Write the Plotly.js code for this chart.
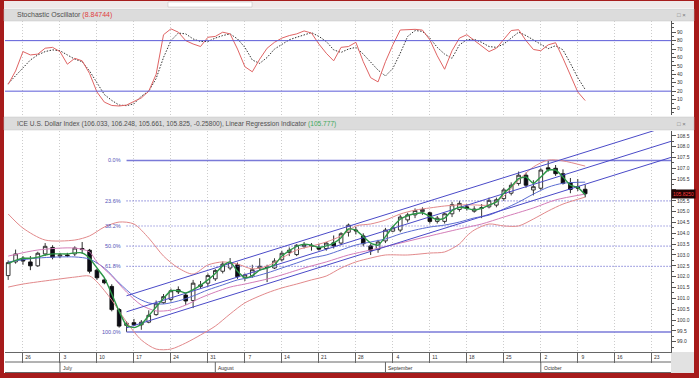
<!DOCTYPE html>
<html><head><meta charset="utf-8">
<script src="https://cdn.plot.ly/plotly-3.0.1.min.js"></script>
<style>html,body{margin:0;padding:0;background:#a61b1b;overflow:hidden}#chart{width:699px;height:378px}</style>
</head><body><div id="chart"></div>
<script>
// ---------- DATA ----------
const dates = ['2023-06-22','2023-06-23',
'2023-06-26','2023-06-27','2023-06-28','2023-06-29','2023-06-30',
'2023-07-03','2023-07-04','2023-07-05','2023-07-06','2023-07-07',
'2023-07-10','2023-07-11','2023-07-12','2023-07-13','2023-07-14',
'2023-07-17','2023-07-18','2023-07-19','2023-07-20','2023-07-21',
'2023-07-24','2023-07-25','2023-07-26','2023-07-27','2023-07-28',
'2023-07-31','2023-08-01','2023-08-02','2023-08-03','2023-08-04',
'2023-08-07','2023-08-08','2023-08-09','2023-08-10','2023-08-11',
'2023-08-14','2023-08-15','2023-08-16','2023-08-17','2023-08-18',
'2023-08-21','2023-08-22','2023-08-23','2023-08-24','2023-08-25',
'2023-08-28','2023-08-29','2023-08-30','2023-08-31','2023-09-01',
'2023-09-04','2023-09-05','2023-09-06','2023-09-07','2023-09-08',
'2023-09-11','2023-09-12','2023-09-13','2023-09-14','2023-09-15',
'2023-09-18','2023-09-19','2023-09-20','2023-09-21','2023-09-22',
'2023-09-25','2023-09-26','2023-09-27','2023-09-28','2023-09-29',
'2023-10-02','2023-10-03','2023-10-04','2023-10-05','2023-10-06',
'2023-10-09','2023-10-10'];

const openValues = [102.05,102.68,
102.85,102.68,102.50,103.05,103.35,
102.95,103.00,103.05,103.30,103.22,
102.30,101.85,101.55,100.48,99.75,
99.88,99.78,99.90,100.25,100.80,
100.95,101.40,101.15,100.90,101.55,
101.70,101.90,102.25,102.40,102.55,
101.95,102.05,102.40,102.45,102.40,
102.78,103.12,103.02,103.40,103.45,
103.36,103.30,103.56,103.55,104.05,
104.15,103.88,103.42,103.25,103.65,
104.10,104.15,104.62,104.85,105.00,
104.95,104.55,104.55,104.90,105.10,
105.22,105.02,105.15,105.22,105.30,
105.60,105.85,106.30,106.68,106.00,
106.08,107.02,107.00,106.75,106.33,
106.15,106.033];
const highValues = [102.75,103.25,
102.95,102.95,103.15,103.55,103.45,
103.10,103.10,103.40,103.60,103.28,
102.35,101.95,101.65,100.55,99.95,
100.05,100.00,100.45,100.90,101.20,
101.45,101.55,101.25,101.85,101.80,
102.15,102.35,102.70,102.86,102.65,
102.15,102.55,102.85,102.55,102.85,
103.20,103.35,103.50,103.60,103.55,
103.52,103.60,103.90,104.05,104.45,
104.30,104.00,103.50,103.70,104.25,
104.35,104.85,104.95,105.15,105.20,
105.00,104.80,104.95,105.45,105.50,
105.35,105.25,105.35,105.65,105.65,
106.10,106.35,106.85,106.80,106.45,
107.00,107.35,107.15,106.95,106.55,
106.50,106.248];
const lowValues = [101.85,102.60,
102.55,102.30,102.45,102.95,102.80,
102.85,102.90,102.95,103.05,102.15,
101.85,101.65,100.40,99.65,99.45,
99.72,99.55,99.85,100.20,100.75,
100.85,101.20,100.70,100.55,101.45,
101.55,101.80,102.15,102.30,101.90,
101.80,101.95,102.30,101.75,102.35,
102.70,102.95,102.95,103.30,103.20,
103.20,103.20,103.30,103.45,103.85,
103.95,103.40,103.00,103.10,103.55,
104.05,104.05,104.50,104.70,104.85,
104.45,104.45,104.45,104.75,105.00,
105.05,104.95,104.70,105.15,105.20,
105.50,105.75,106.20,106.10,105.75,
106.00,106.85,106.65,106.25,105.85,
105.95,105.661];
const closeValues = [102.65,103.05,
102.72,102.50,103.08,103.40,102.90,
103.00,102.97,103.32,103.25,102.25,
101.95,101.72,100.48,99.72,99.85,
99.78,99.90,100.22,100.75,101.08,
101.35,101.30,100.88,101.70,101.62,
102.05,102.28,102.58,102.65,102.00,
102.08,102.32,102.48,102.42,102.72,
103.08,103.22,103.45,103.48,103.40,
103.27,103.55,103.42,103.98,104.38,
104.12,103.52,103.20,103.60,104.15,
104.25,104.75,104.85,105.05,105.10,
104.55,104.70,104.90,105.32,105.38,
105.15,105.12,105.18,105.52,105.55,
106.00,106.22,106.68,106.22,106.15,
106.92,106.96,106.75,106.30,106.02,
106.083,105.825];

// Linear Regression Indicator (green)
const lriValues = [102.6,102.75,
102.85,102.85,102.9,103.0,103.05,
103.05,103.05,103.1,103.1,102.85,
102.4,101.95,101.2,100.4,99.75,
99.65,99.8,100.2,100.6,101.0,
101.35,101.35,101.25,101.4,101.6,
101.85,102.15,102.5,102.68,102.25,
101.95,102.05,102.3,102.4,102.55,
102.95,103.2,103.4,103.5,103.45,
103.35,103.42,103.55,103.8,104.2,
104.15,103.85,103.55,103.45,103.85,
104.3,104.65,104.82,104.9,104.95,
104.78,104.62,104.7,105.05,105.2,
105.15,105.08,105.15,105.3,105.45,
105.85,106.15,106.52,106.6,106.3,
106.6,106.92,106.92,106.6,106.22,
106.12,105.777];

// Stochastic oscillator
const stochK = [28,44,
67,63,64,71,72,
67,52,59,56,41,
19,7,3,2.4,3.5,
8,12,20,40,87,
94,90,80,76,73,
84,85,90,88,70,
49,43,58,71,78,
83,86,88,91.5,89,
76,65,56,72,73,
78,55,36,31,55,
75,92.6,93,93.4,92.5,
81,62,46,68,83,
87,80,74,67,71,
82,92,93,80,69.5,
68,75,77.5,59,38,
19,8.84744];
const stochD = [29,38,
47,57,63,67,69,
68,63,58,55,44,
30,16,9,3.5,2.8,
5,14,20,35,60,
80,89,88,82,79,
79,83,86,88,82,
72,57,53,60,70,
76,81,84,87,89.5,
85,79,69,66,70,
72,64,55,45,38,
47,65,85,92,91,
83,72,64,59,75,
81,81.5,78,73,72,
76,83,90,86,80.5,
75,70.5,74,69,53,
36,22];
const stochLevels = [20, 80];

// Bollinger bands and moving averages
const upperBandDates = ['2023-06-22','2023-06-26','2023-06-29','2023-07-05','2023-07-07','2023-07-11','2023-07-13','2023-07-17','2023-07-19','2023-07-21','2023-07-25','2023-07-27','2023-07-31','2023-08-02','2023-08-04','2023-08-08','2023-08-10','2023-08-14','2023-08-16','2023-08-18','2023-08-22','2023-08-24','2023-08-28','2023-08-30','2023-09-01','2023-09-05','2023-09-07','2023-09-11','2023-09-13','2023-09-15','2023-09-19','2023-09-21','2023-09-25','2023-09-27','2023-09-29','2023-10-03','2023-10-05','2023-10-10'];
const upperBandValues = [104.89,104.24,103.69,103.69,103.88,104.29,104.52,104.43,103.78,102.95,102.40,102.12,102.54,102.68,102.58,102.36,102.49,102.86,103.23,103.41,103.60,103.88,104.34,104.43,104.61,104.89,105.07,105.17,105.26,105.31,105.31,105.31,105.72,106.46,107.06,107.38,107.34,107.10];
const lowerBandDates = ['2023-06-22','2023-06-26','2023-06-30','2023-07-05','2023-07-07','2023-07-10','2023-07-12','2023-07-14','2023-07-18','2023-07-20','2023-07-24','2023-07-26','2023-07-28','2023-08-01','2023-08-03','2023-08-07','2023-08-10','2023-08-14','2023-08-16','2023-08-18','2023-08-22','2023-08-24','2023-08-28','2023-08-30','2023-09-01','2023-09-06','2023-09-11','2023-09-13','2023-09-15','2023-09-18','2023-09-19','2023-09-21','2023-09-25','2023-09-27','2023-09-29','2023-10-03','2023-10-05','2023-10-10'];
const lowerBandValues = [101.52,101.66,101.85,101.98,102.03,101.76,100.92,99.91,99.08,98.66,98.66,98.94,99.31,99.72,100.28,100.79,101.25,101.48,101.66,101.85,102.03,102.40,102.68,102.86,103.0,103.0,103.09,103.14,103.51,103.88,104.15,104.43,104.34,104.34,104.66,105.03,105.35,105.67];
const middleBandDates = ['2023-06-22','2023-06-28','2023-07-05','2023-07-07','2023-07-11','2023-07-13','2023-07-17','2023-07-19','2023-07-21','2023-07-25','2023-07-27','2023-07-31','2023-08-02','2023-08-04','2023-08-08','2023-08-10','2023-08-14','2023-08-16','2023-08-18','2023-08-22','2023-08-24','2023-08-28','2023-08-30','2023-09-01','2023-09-05','2023-09-07','2023-09-11','2023-09-13','2023-09-15','2023-09-19','2023-09-21','2023-09-25','2023-09-27','2023-09-29','2023-10-03','2023-10-05','2023-10-10'];
const middleBandValues = [102.68,102.86,102.91,102.81,102.40,101.71,101.11,100.79,100.74,100.88,101.11,101.39,101.62,101.85,101.98,102.17,102.40,102.63,102.86,103.0,103.23,103.46,103.60,103.74,103.97,104.15,104.29,104.38,104.52,104.71,104.84,105.12,105.44,105.81,106.13,106.31,106.36];
const slowAverageDates = ['2023-06-22','2023-06-28','2023-07-05','2023-07-07','2023-07-10','2023-07-12','2023-07-14','2023-07-18','2023-07-20','2023-07-24','2023-07-26','2023-07-28','2023-08-01','2023-08-03','2023-08-07','2023-08-10','2023-08-14','2023-08-17','2023-08-22','2023-08-25','2023-08-30','2023-09-05','2023-09-11','2023-09-15','2023-09-20','2023-09-25','2023-09-29','2023-10-04','2023-10-10'];
const slowAverageValues = [102.95,103.23,103.32,103.14,102.68,102.03,101.29,100.69,100.42,100.46,100.69,101.02,101.29,101.52,101.66,101.89,102.08,102.40,102.68,103.0,103.23,103.55,103.88,104.20,104.43,104.75,105.17,105.54,105.81];

// Regression channel (upper, middle, lower)
const channelDates = ['2023-07-14','2023-10-31'];
const channelStartValues = [101.12, 100.38, 99.64];
const channelEndValues = [109.56, 108.82, 108.08];

// Fibonacci retracement
const fibDates = ['2023-07-14','2023-10-31'];
const fibHigh = 107.36, fibLow = 99.45;
const fibLevels = [0, 23.6, 38.2, 50, 61.8, 100];

// Axis labels
const weekTickDates = ['2023-06-26','2023-07-03','2023-07-10','2023-07-17','2023-07-24','2023-07-31','2023-08-07','2023-08-14','2023-08-21','2023-08-28','2023-09-04','2023-09-11','2023-09-18','2023-09-25','2023-10-02','2023-10-09','2023-10-16','2023-10-23'];
const weekTickLabels = ['26','3','10','17','24','31','7','14','21','28','4','11','18','25','2','9','16','23'];
const monthStartDates = ['2023-07-03','2023-08-01','2023-09-01','2023-10-02'];
const monthLabels = ['July','August','September','October'];
const priceTicks = [99.0,99.5,100.0,100.5,101.0,101.5,102.0,102.5,103.0,103.5,104.0,104.5,105.0,105.5,106.0,106.5,107.0,107.5,108.0,108.5];
const stochTicks = [0,10,20,30,40,50,60,70,80,90];

// ---------- LAYOUT HELPERS ----------
const L = 5, R = 671, T = 21, B = 352;
const px = x => (x - L) / (R - L);
const py = y => (B - y) / (B - T);
const noon = d => d + ' 12:00';
const FONT = 'Liberation Sans, Arial, sans-serif';
const DOTS = '1px,2px';

const lastI = closeValues.length - 1;
const traces = [];
fibLevels.forEach(p => {
  const v = fibHigh - p / 100 * (fibHigh - fibLow);
  const solid = (p === 0 || p === 100);
  traces.push({type:'scatter', mode:'lines', x: fibDates.map(noon), y:[v, v], xaxis:'x', yaxis:'y',
    line:{color: solid ? '#7a7ad8' : '#6a6ad0', width: solid ? 1.5 : 1.2, dash: solid ? 'solid' : DOTS},
    hoverinfo:'skip', showlegend:false});
});
traces.push({type:'scatter', mode:'lines', x: upperBandDates.map(noon), y: upperBandValues, xaxis:'x', yaxis:'y',
  line:{color:'#e2898b', width:1, shape:'spline', smoothing:0.8}, hoverinfo:'skip', showlegend:false});
traces.push({type:'scatter', mode:'lines', x: lowerBandDates.map(noon), y: lowerBandValues, xaxis:'x', yaxis:'y',
  line:{color:'#e2898b', width:1, shape:'spline', smoothing:0.8}, hoverinfo:'skip', showlegend:false});
traces.push({type:'scatter', mode:'lines', x: middleBandDates.map(noon), y: middleBandValues, xaxis:'x', yaxis:'y',
  line:{color:'#5a6cd2', width:1, shape:'spline', smoothing:0.8}, hoverinfo:'skip', showlegend:false});
traces.push({type:'scatter', mode:'lines', x: slowAverageDates.map(noon), y: slowAverageValues, xaxis:'x', yaxis:'y',
  line:{color:'#d47db8', width:1, shape:'spline', smoothing:0.8}, hoverinfo:'skip', showlegend:false});
channelStartValues.forEach((s, i) => {
  traces.push({type:'scatter', mode:'lines', x: channelDates.map(noon), y:[s, channelEndValues[i]], xaxis:'x', yaxis:'y',
    line:{color:'#4a4ac8', width:1}, hoverinfo:'skip', showlegend:false});
});
traces.push({type:'candlestick', x: dates.map(noon), open: openValues, high: highValues, low: lowValues, close: closeValues,
  xaxis:'x', yaxis:'y', whiskerwidth:0,
  increasing:{line:{color:'#222', width:0.9}, fillcolor:'#ffffff'},
  decreasing:{line:{color:'#111', width:0.9}, fillcolor:'#0b0b16'},
  hoverinfo:'skip', showlegend:false});
traces.push({type:'scatter', mode:'lines', x: dates.map(noon), y: lriValues, xaxis:'x', yaxis:'y',
  line:{color:'#2b9646', width:1.4, shape:'spline', smoothing:0.5}, hoverinfo:'skip', showlegend:false});
traces.push({type:'scatter', mode:'lines', x: dates.map(noon), y: stochD, xaxis:'x2', yaxis:'y2',
  line:{color:'#333', width:1, dash:'1.5px,1.5px'}, hoverinfo:'skip', showlegend:false});
traces.push({type:'scatter', mode:'lines', x: dates.map(noon), y: stochK, xaxis:'x2', yaxis:'y2',
  line:{color:'#e06464', width:1}, hoverinfo:'skip', showlegend:false});

const xRange = ['2023-06-22 01:40', '2023-10-26 02:24'];
const gridStyle = {showgrid:true, gridcolor:'#cccccc', griddash:DOTS, gridwidth:1};

const shapes = [
  {type:'rect', xref:'paper', yref:'paper', x0:px(4), x1:px(694), y0:py(373), y1:py(8), fillcolor:'#ffffff', line:{width:0}, layer:'below'},
  {type:'rect', xref:'paper', yref:'paper', x0:px(4), x1:px(694), y0:py(8), y1:py(1), fillcolor:'#eee8e8', line:{width:0}, layer:'below'},
  {type:'rect', xref:'paper', yref:'paper', x0:px(168), x1:px(252), y0:py(7), y1:py(2), fillcolor:'#ffffff', line:{color:'#bbb', width:0.5}, layer:'below'},
  {type:'rect', xref:'paper', yref:'paper', x0:px(4), x1:px(694), y0:py(21), y1:py(9), fillcolor:'#dcdcdc', line:{color:'#c4c4c4', width:0.5}, layer:'below'},
  {type:'rect', xref:'paper', yref:'paper', x0:px(4), x1:px(694), y0:py(130), y1:py(117), fillcolor:'#dcdcdc', line:{color:'#c4c4c4', width:0.5}, layer:'below'},
  {type:'line', xref:'paper', yref:'paper', x0:px(5), x1:px(671), y0:py(362), y1:py(362), line:{color:'#666', width:1}},
  {type:'line', xref:'paper', yref:'paper', x0:px(5), x1:px(671), y0:py(372.5), y1:py(372.5), line:{color:'#666', width:1}},
  {type:'rect', xref:'paper', yref:'paper', x0:px(671), x1:px(694), y0:py(373), y1:py(352), fillcolor:'#e2e2e2', line:{width:0}, layer:'below'},
];
stochLevels.forEach(v => shapes.push({type:'line', xref:'paper', yref:'y2', x0:0, x1:1, y0:v, y1:v, line:{color:'#5c5cd8', width:1}}));
monthStartDates.forEach(d => shapes.push({type:'line', xref:'x', yref:'paper', x0:noon(d), x1:noon(d), y0:py(362), y1:py(372.5), line:{color:'#666', width:1}}));

const annotations = [];
const change = closeValues[lastI] - closeValues[lastI - 1];
annotations.push({xref:'paper', yref:'paper', x:px(15), y:py(15), xanchor:'left', yanchor:'middle', showarrow:false,
  text:'Stochastic Oscillator <span style="color:#e04040">(' + stochK[lastI] + ')</span>', font:{family:FONT, size:7, color:'#505050'}});
annotations.push({xref:'paper', yref:'paper', x:px(15), y:py(123.5), xanchor:'left', yanchor:'middle', showarrow:false,
  text:'ICE U.S. Dollar Index (' + openValues[lastI].toFixed(3) + ', ' + highValues[lastI].toFixed(3) + ', ' + lowValues[lastI].toFixed(3) + ', ' + closeValues[lastI].toFixed(3) + ', ' + change.toFixed(5) + '), Linear Regression Indicator <span style="color:#3fa85a">(' + lriValues[lastI].toFixed(3) + ')</span>',
  font:{family:FONT, size:6.6, color:'#505050'}});
[15, 123.5].forEach(y => annotations.push({xref:'paper', yref:'paper', x:px(675), y:py(y), xanchor:'left', yanchor:'middle', showarrow:false,
  text:'□ ×', font:{family:FONT, size:6, color:'#777'}}));
fibLevels.forEach(p => {
  const v = fibHigh - p / 100 * (fibHigh - fibLow);
  annotations.push({xref:'x', yref:'y', x:noon(fibDates[0]), y:v, xanchor:'right', yanchor:'middle', xshift:-4, showarrow:false,
    text: p.toFixed(1) + '%', font:{family:FONT, size:5.5, color:'#5454b8'}});
});
monthStartDates.forEach((d, i) => annotations.push({xref:'x', yref:'paper', x:noon(d), y:py(367.5), xanchor:'left', yanchor:'middle', xshift:1, showarrow:false,
  text: monthLabels[i], font:{family:FONT, size:5, color:'#333'}}));
annotations.push({xref:'paper', yref:'y', x:1, y:closeValues[lastI], xanchor:'left', yanchor:'middle', showarrow:false,
  text: closeValues[lastI].toFixed(4), bgcolor:'#1e0404', borderpad:1, font:{family:FONT, size:5, color:'#ff3a3a'}});

const priceTickText = priceTicks.map(v => Math.abs(v - closeValues[lastI]) < 0.3 ? '' : v.toFixed(1));

const layout = {
  width:699, height:378, autosize:false,
  margin:{l:L, r:699 - R, t:T, b:378 - B, pad:0},
  paper_bgcolor:'#a61b1b', plot_bgcolor:'#ffffff',
  font:{family:FONT, size:5, color:'#333'},
  showlegend:false,
  xaxis:Object.assign({type:'date', anchor:'y', domain:[0,1], range:xRange,
    rangeslider:{visible:false},
    rangebreaks:[{bounds:['sat','mon']}],
    tickmode:'array', tickvals: weekTickDates.map(noon), ticktext: weekTickLabels,
    ticks:'outside', ticklen:10, tickwidth:1, tickcolor:'#666',
    ticklabelshift:5, ticklabelstandoff:-10,
    showline:true, linecolor:'#666', linewidth:1, zeroline:false,
    tickfont:{family:FONT, size:5, color:'#333'}}, gridStyle),
  xaxis2:Object.assign({type:'date', anchor:'y2', domain:[0,1], matches:'x', range:xRange,
    rangeslider:{visible:false},
    rangebreaks:[{bounds:['sat','mon']}],
    tickmode:'array', tickvals: weekTickDates.map(noon), showticklabels:false, ticks:'', showline:false, zeroline:false}, gridStyle),
  yaxis:{anchor:'x', side:'right', domain:[0, py(131)], range:[98.525, 108.72],
    tickmode:'array', tickvals: priceTicks, ticktext: priceTickText,
    ticks:'outside', ticklen:4, tickcolor:'#555', showline:true, linecolor:'#555', linewidth:1,
    minor:{dtick:0.25, tick0:99, ticks:'outside', ticklen:2, tickcolor:'#555', showgrid:false},
    showgrid:false, zeroline:false, tickfont:{family:FONT, size:5, color:'#333'}},
  yaxis2:{anchor:'x2', side:'right', domain:[py(115), 1], range:[-8.3, 103.3],
    tickmode:'array', tickvals: stochTicks,
    ticks:'outside', ticklen:4, tickcolor:'#555', showline:true, linecolor:'#555', linewidth:1,
    minor:{dtick:5, tick0:0, ticks:'outside', ticklen:2, tickcolor:'#555', showgrid:false},
    showgrid:false, zeroline:false, tickfont:{family:FONT, size:5, color:'#333'}},
  shapes: shapes,
  annotations: annotations
};

Plotly.newPlot('chart', traces, layout, {displayModeBar:false, staticPlot:true});
</script></body></html>
